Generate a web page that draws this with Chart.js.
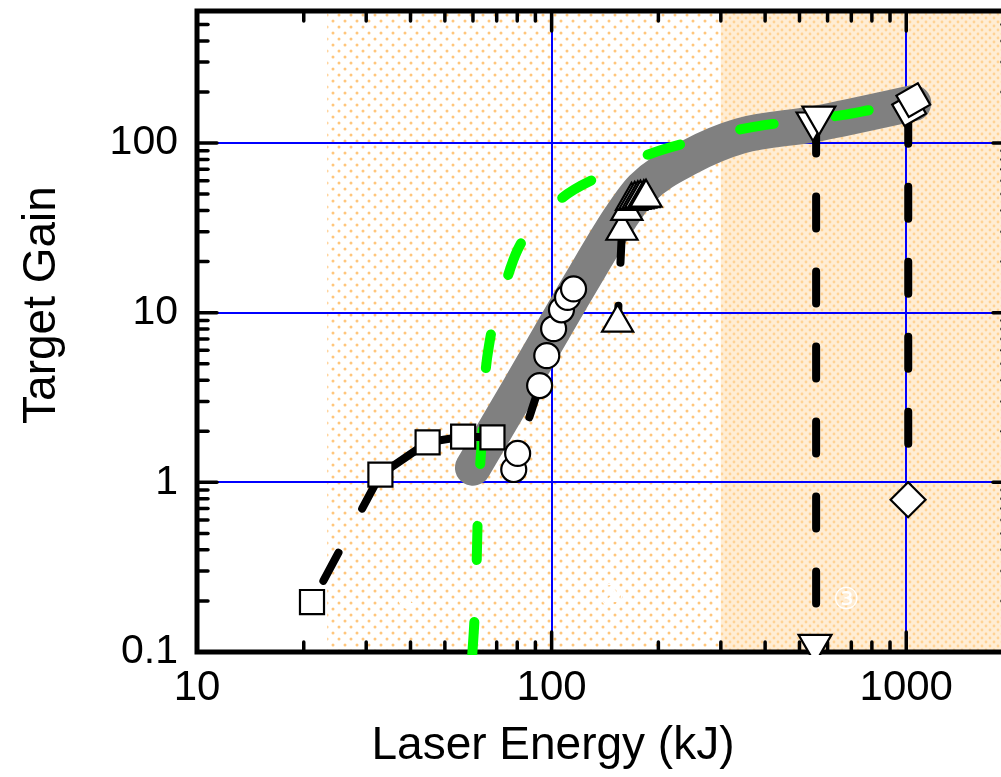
<!DOCTYPE html>
<html>
<head>
<meta charset="utf-8">
<title>Target Gain vs Laser Energy</title>
<script src="https://cdn.jsdelivr.net/npm/chart.js@4.4.1/dist/chart.umd.min.js"></script>
<style>
  html, body { margin: 0; padding: 0; background: #fff; overflow: hidden; }
  #wrap { width: 1021px; height: 777px; }
</style>
</head>
<body>
<div id="wrap"><canvas id="gainChart" width="1021" height="777"></canvas></div>
<script>
const FONT = "'Liberation Sans', Arial, sans-serif";

// axis limits and labelled decades
const energyMin = 10, energyMax = 2000;
const gainMin = 0.1, gainMax = 600;
const energyLabels = [10, 100, 1000];
const gainLabels = [0.1, 1, 10, 100];

// shaded energy ranges (kJ)
const lightBand = [23.3, 300];
const denseBand = [300, 2000];

// broad gray trend
const trendEnergy = [60, 81.7, 120.8, 156.7, 180, 245, 340, 546, 1047];
const trendGain = [1.22, 3.67, 15.0, 36.7, 54, 82.7, 110, 129, 172];

// green dashed model curve
const modelEnergy = [59.7, 60.6, 61.4, 61.8, 62.6, 63.8, 64.7, 66.8, 72.8, 80.2, 105.4, 139.2, 192.7, 257, 355, 464, 659, 855, 993];
const modelGain = [0.095, 0.156, 0.308, 0.551, 1.08, 2.0, 3.77, 6.66, 13.1, 23.5, 46.2, 64.9, 87.4, 104, 122.5, 133, 146, 161, 167];

// squares
const sqEnergy = [21.1, 32.9, 44.7, 56.3, 68.1];
const sqGain = [0.197, 1.11, 1.72, 1.86, 1.84];

// circles
const circEnergy = [78.2, 80.2, 92.5, 96.9, 101.3, 106.6, 110.9, 115.3];
const circGain = [1.19, 1.48, 3.72, 5.58, 8.05, 10.4, 12.3, 13.8];

// upward triangles
const triEnergy = [153.5, 157.9, 163, 168, 171.5, 175, 178, 182, 184.6];
const triGain = [8.73, 30.4, 39.8, 45.6, 46.2, 46.6, 47.0, 47.3, 47.6];

// downward triangles
const invEnergy = [546, 567, 553];
const invGain = [133, 144, 0.111];

// diamonds
const diaEnergy = [1012, 1019, 1047];
const diaGain = [0.79, 158.5, 179];
const diaTilt = [0, 15, 15];

// dashed drop lines
const riseEnergy = [157.9, 153.5];
const riseGain = [30.4, 8.73];
const midDropEnergy = [557, 557];
const midDropGain = [134, 0.1];
const topDropEnergy = [1013, 1013];
const topDropGain = [153, 0.79];

// faint region markers
const noteText = ['\u2460', '\u2461', '\u2462'];
const noteEnergy = [39.7, 147, 677];
const noteGain = [0.2, 0.208, 0.2];

const pts = (xs, ys) => xs.map((x, i) => ({ x, y: ys[i] }));
const NONE = 'rgba(0,0,0,0)';
const CLIP = { left: 0, top: 0, right: 0, bottom: 3 };

function makeTile(size, bg, dots) {
  const c = document.createElement('canvas');
  c.width = c.height = size;
  const g = c.getContext('2d');
  if (bg) { g.fillStyle = bg; g.fillRect(0, 0, size, size); }
  dots.forEach(([x, y, r, col]) => {
    g.fillStyle = col;
    g.beginPath();
    g.arc(x, y, r, 0, Math.PI * 2);
    g.fill();
  });
  return c;
}

const lightTile = makeTile(12, null, [[3, 3, 1.5, '#ffc67c'], [9, 9, 1.5, '#ffc67c']]);
const denseTile = makeTile(8, '#ffedd4', [[2, 2, 1.4, '#ffd294'], [6, 6, 1.4, '#ffd294']]);

const bandsPlugin = {
  id: 'bands',
  beforeDraw(chart) {
    const { ctx, chartArea: a, scales: { x } } = chart;
    const fillBand = (lo, hi, tile) => {
      const x0 = Math.max(x.getPixelForValue(lo), a.left);
      const x1 = Math.min(x.getPixelForValue(hi), a.right);
      ctx.fillStyle = ctx.createPattern(tile, 'repeat');
      ctx.fillRect(x0, a.top, x1 - x0, a.bottom - a.top);
    };
    ctx.save();
    fillBand(lightBand[0], lightBand[1], lightTile);
    fillBand(denseBand[0], denseBand[1], denseTile);
    ctx.restore();
  }
};

// frame, inward ticks and region markers (under the data)
const framePlugin = {
  id: 'frame',
  beforeDatasetsDraw(chart) {
    const { ctx, chartArea: a, scales: { x, y } } = chart;
    ctx.save();

    ctx.fillStyle = '#fff';
    ctx.font = `30px 'DejaVu Sans', ${FONT}`;
    ctx.textAlign = 'center';
    ctx.textBaseline = 'middle';
    noteText.forEach((t, i) => {
      ctx.fillText(t, x.getPixelForValue(noteEnergy[i]), y.getPixelForValue(noteGain[i]));
    });

    ctx.strokeStyle = '#000';
    ctx.lineCap = 'round';
    ctx.lineWidth = 3.5;
    const seg = (x0, y0, x1, y1) => {
      ctx.beginPath(); ctx.moveTo(x0, y0); ctx.lineTo(x1, y1); ctx.stroke();
    };
    for (let d = 10; d <= 1000; d *= 10) {
      for (let k = 1; k <= 9; k++) {
        const v = d * k;
        if (v <= energyMin || v >= energyMax) continue;
        const px = x.getPixelForValue(v);
        const len = k === 1 ? 20 : 10;
        seg(px, a.bottom, px, a.bottom - len);
        seg(px, a.top, px, a.top + len);
      }
    }
    for (let d = 0.1; d <= 100; d *= 10) {
      for (let k = 1; k <= 9; k++) {
        const v = d * k;
        if (v <= gainMin * 1.001 || v >= gainMax) continue;
        const py = y.getPixelForValue(v);
        const len = k === 1 ? 20 : 11;
        seg(a.left, py, a.left + len, py);
        seg(a.right, py, a.right - len, py);
      }
    }

    ctx.lineWidth = 5;
    ctx.lineCap = 'butt';
    ctx.strokeRect(a.left, a.top, a.right - a.left, a.bottom - a.top);
    ctx.restore();
  }
};

const titlesPlugin = {
  id: 'titles',
  afterDraw(chart) {
    const { ctx } = chart;
    ctx.save();
    ctx.fillStyle = '#000';
    ctx.font = `46px ${FONT}`;
    ctx.textAlign = 'center';
    ctx.textBaseline = 'middle';
    ctx.fillText('Laser Energy (kJ)', 553, 746);
    ctx.translate(42, 305);
    ctx.rotate(-Math.PI / 2);
    ctx.fillText('Target Gain', 0, 0);
    ctx.restore();
  }
};

const marker = {
  showLine: false,
  pointBackgroundColor: '#fff',
  pointBorderColor: '#000',
  pointBorderWidth: 2.2,
  clip: CLIP
};

const dashed = {
  borderColor: '#000',
  borderWidth: 8,
  borderDash: [32, 43],
  borderCapStyle: 'round',
  pointRadius: 0,
  clip: CLIP
};

new Chart(document.getElementById('gainChart'), {
  type: 'line',
  data: {
    datasets: [
      {
        label: 'trend',
        data: pts(trendEnergy, trendGain),
        borderColor: '#808080',
        borderWidth: 36,
        borderCapStyle: 'round',
        borderJoinStyle: 'round',
        cubicInterpolationMode: 'monotone',
        pointRadius: 0,
        clip: CLIP,
        order: 20
      },
      {
        label: 'model',
        data: pts(modelEnergy, modelGain),
        borderColor: '#00ff00',
        borderWidth: 10,
        borderDash: [34, 62],
        borderCapStyle: 'round',
        cubicInterpolationMode: 'monotone',
        pointRadius: 0,
        clip: CLIP,
        order: 19
      },
      { label: 'rise', data: pts(riseEnergy, riseGain), ...dashed, order: 15 },
      { label: 'mid drop', data: pts(midDropEnergy, midDropGain), ...dashed, order: 15 },
      { label: 'top drop', data: pts(topDropEnergy, topDropGain), ...dashed, order: 15 },
      {
        label: 'squares',
        data: pts(sqEnergy, sqGain),
        ...marker,
        showLine: true,
        borderColor: '#000',
        borderWidth: 8,
        borderCapStyle: 'round',
        segment: {
          borderDash: c => c.p0DataIndex === 0 ? [32, 50] : [],
          borderDashOffset: c => c.p0DataIndex === 0 ? 58 : 0
        },
        pointStyle: 'rect',
        pointRadius: 17,
        order: 5
      },
      {
        label: 'circles',
        data: pts(circEnergy, circGain),
        ...marker,
        showLine: true,
        borderColor: '#000',
        borderWidth: 8,
        borderCapStyle: 'round',
        segment: {
          borderColor: c => c.p0DataIndex === 1 ? '#000' : NONE,
          borderDash: [32, 43],
          borderDashOffset: 37
        },
        pointStyle: 'circle',
        pointRadius: 12.5,
        order: 4
      },
      {
        label: 'triangles',
        data: pts(triEnergy, triGain),
        ...marker,
        pointStyle: 'triangle',
        pointRadius: 18,
        order: 3
      },
      {
        label: 'inverted triangles',
        data: pts(invEnergy, invGain),
        ...marker,
        pointStyle: 'triangle',
        pointRotation: 180,
        pointRadius: 19,
        order: 2
      },
      {
        label: 'diamonds',
        data: pts(diaEnergy, diaGain),
        ...marker,
        pointStyle: 'rectRot',
        pointRotation: diaTilt,
        pointRadius: 17.5,
        order: 1
      }
    ]
  },
  options: {
    responsive: false,
    animation: false,
    events: [],
    layout: { autoPadding: false, padding: { left: 0, top: 11, right: 8, bottom: 0 } },
    plugins: { legend: { display: false }, tooltip: { enabled: false } },
    scales: {
      x: {
        type: 'logarithmic',
        min: energyMin,
        max: energyMax,
        afterBuildTicks: s => { s.ticks = energyLabels.map(v => ({ value: v })); },
        afterFit: s => { s.height = 125; s.paddingLeft = 0; s.paddingRight = 0; },
        ticks: {
          callback: v => String(v),
          font: { family: FONT, size: 42 },
          color: '#000',
          padding: 11,
          maxRotation: 0,
          autoSkip: false
        },
        grid: {
          color: c => (c.tick && c.tick.value === energyMin) ? NONE : '#0000ff',
          lineWidth: 2,
          drawTicks: false
        },
        border: { display: false }
      },
      y: {
        type: 'logarithmic',
        min: gainMin,
        max: gainMax,
        afterBuildTicks: s => { s.ticks = gainLabels.map(v => ({ value: v })); },
        afterFit: s => { s.width = 197; s.paddingTop = 0; s.paddingBottom = 0; },
        ticks: {
          callback: v => String(v),
          font: { family: FONT, size: 41 },
          color: '#000',
          padding: 19,
          autoSkip: false
        },
        grid: {
          color: c => (c.tick && c.tick.value === gainMin) ? NONE : '#0000ff',
          lineWidth: 2,
          drawTicks: false
        },
        border: { display: false }
      }
    }
  },
  plugins: [bandsPlugin, framePlugin, titlesPlugin]
});
</script>
</body>
</html>
